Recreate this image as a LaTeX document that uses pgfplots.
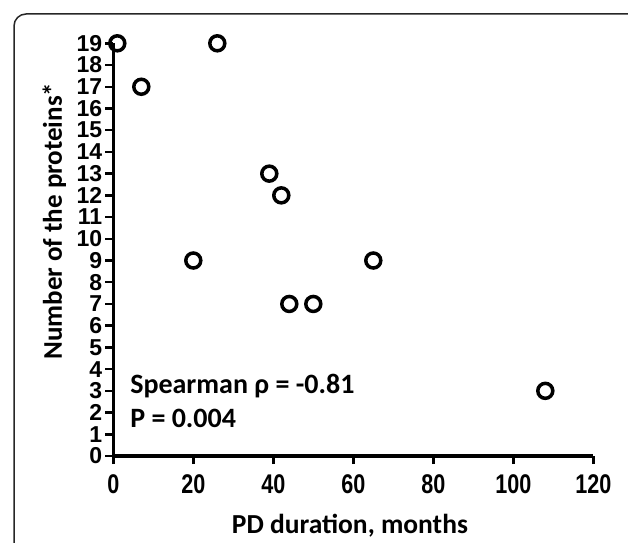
\documentclass[border=0pt]{standalone}
\usepackage{fontspec}
\usepackage{pgfplots}
\pgfplotsset{compat=1.18}
\setmainfont{Carlito}
\newfontfamily\tickfont{Liberation Sans}

\begin{document}
\begin{tikzpicture}
\clip (0,0) rectangle (628bp,543bp);
\useasboundingbox (0,0) rectangle (628bp,543bp);
% rounded frame, cut off at right and bottom
\draw[line width=1.5bp, rounded corners=12bp, black!85]
  (14bp,-30bp) rectangle (660bp,529bp);
\begin{axis}[
    at={(113.3bp,87bp)}, anchor=south west,
    x=4bp, y=21.72bp,
    xmin=0, xmax=120,
    ymin=0, ymax=19,
    axis lines=left,
    axis line style={-, line width=3bp},
    xtick={0,20,...,120},
    ytick={0,1,...,19},
    tick align=outside,
    major tick length=8bp,
    tick style={line width=2.5bp, black},
    clip=false,
    /pgf/number format/assume math mode=true,
    yticklabel style={font=\tickfont\bfseries\fontsize{23bp}{23bp}\selectfont, inner xsep=3bp, inner ysep=0pt},
    xticklabel style={font=\tickfont\bfseries\fontsize{27bp}{27bp}\selectfont, inner ysep=0pt, yshift=-10bp},
    xticklabel={\scalebox{0.8}[1]{\pgfmathprintnumber{\tick}}},
    xlabel={PD duration, months},
    ylabel={Number of the proteins*},
    xlabel style={font=\bfseries\fontsize{27.5bp}{27.5bp}\selectfont,
      at={(axis description cs:0.493,-0.188)}, anchor=base, inner sep=0pt},
    ylabel style={font=\bfseries\fontsize{27bp}{27bp}\selectfont,
      at={(axis description cs:-0.107,0.569)}, anchor=base, rotate=0, inner sep=0pt},
]
\addplot[only marks, mark=o, mark size=7.5bp, line width=3.5bp, black]
coordinates {
    (1,19) (7,17) (26,19) (20,9) (39,13) (42,12)
    (44,7) (50,7) (65,9) (108,3)
};
\node[anchor=base west, inner sep=0pt, font=\bfseries\fontsize{28bp}{28bp}\selectfont]
  at (axis cs:4.2,2.9) {Spearman ρ = -0.81};
\node[anchor=base west, inner sep=0pt, font=\bfseries\fontsize{28bp}{28bp}\selectfont]
  at (axis cs:4.2,1.29) {P = 0.004};
\end{axis}
\end{tikzpicture}
\end{document}
